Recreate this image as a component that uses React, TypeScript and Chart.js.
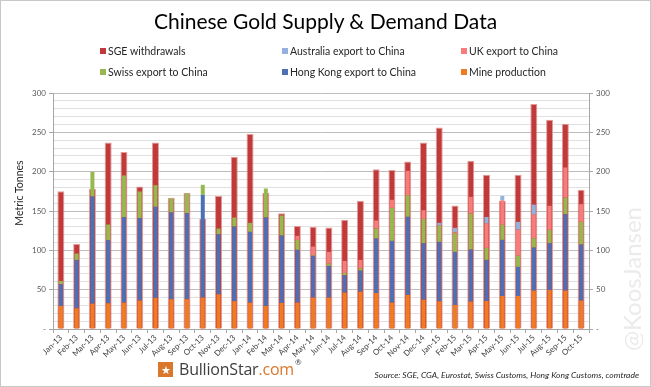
import React, { useEffect, useRef } from "react";
import { Chart, registerables } from "chart.js";

Chart.register(...registerables);

const months = [
  "Jan-13", "Feb-13", "Mar-13", "Apr-13", "May-13", "Jun-13", "Jul-13", "Aug-13", "Sep-13", "Oct-13", "Nov-13", "Dec-13",
  "Jan-14", "Feb-14", "Mar-14", "Apr-14", "May-14", "Jun-14", "Jul-14", "Aug-14", "Sep-14", "Oct-14", "Nov-14", "Dec-14",
  "Jan-15", "Feb-15", "Mar-15", "Apr-15", "May-15", "Jun-15", "Jul-15", "Aug-15", "Sep-15", "Oct-15",
];

const sgeWithdrawals = [175, 108, 178, 237, 225, 181, 237, 167, 173, 140, 169, 219, 248, 173, 147, 131, 130, 129, 139, 163, 203, 202, 213, 237, 256, 157, 214, 196, 163, 196, 286, 266, 261, 177];
const mineProduction = [29.3, 26.3, 32.2, 32.7, 33.5, 36.1, 39.5, 37.8, 37.8, 39.9, 44.1, 35.4, 33.5, 29.3, 33.1, 33.5, 39.9, 39.9, 46.2, 47.5, 45.8, 33.5, 43.3, 37.3, 35.2, 30.5, 34.8, 35.6, 42.0, 42.0, 48.8, 49.6, 48.8, 36.1];
const hongKongExport = [27.6, 61.5, 136.2, 80.2, 108.6, 104.8, 115.8, 110.3, 109.4, 130.7, 76.4, 94.8, 90.0, 112.4, 85.7, 67.1, 53.0, 40.3, 22.1, 26.7, 69.2, 78.5, 99.3, 71.7, 75.5, 67.5, 66.2, 52.2, 71.3, 36.9, 54.7, 59.4, 97.1, 71.2];
const swissExport = [4.2, 8.1, 31.4, 19.9, 53.1, 33.9, 27.6, 17.9, 25.1, 12.7, 7.2, 11.5, 11.4, 36.9, 25.5, 12.7, 0.9, 3.0, 3.0, 3.0, 12.7, 42.0, 27.5, 31.0, 20.8, 23.8, 45.8, 15.3, 19.1, 14.4, 11.9, 17.0, 21.3, 28.9];
const ukExport = [0, 0, 0, 0, 0, 0, 0, 0, 0, 0, 0, 0, 0, 0, 0, 5.1, 11.0, 14.8, 15.2, 10.6, 10.2, 10.2, 31.0, 11.0, 0, 1.0, 21.2, 30.8, 31.2, 32.9, 29.9, 30.6, 38.1, 22.5];
const australiaExport = [0, 0, 0, 0, 0, 0, 0, 0, 0, 0, 0, 0, 0, 0, 0, 0, 0, 0, 0, 0, 0, 0, 0, 0, 3.4, 5.8, 0, 8.5, 5.6, 10.0, 12.8, 0, 0, 0];

const yTickLabels = { 0: "-", 50: "50", 100: "100", 150: "150", 200: "200", 250: "250", 300: "300" } as Record<number, string>;

const C = {
  sge: "#bf3a38",
  sgeEdge: "#e49b99",
  mine: "#f07c22",
  hk: "#4a70b6",
  swiss: "#96b94f",
  uk: "#f77d7d",
  aus: "#93b1dc",
};

const FONT = "Lato, 'Open Sans', sans-serif";

const legendItems = [
  { label: "SGE withdrawals", color: C.sge, x: 100, y: 51 },
  { label: "Australia export to China", color: C.aus, x: 282, y: 51 },
  { label: "UK export to China", color: C.uk, x: 461, y: 51 },
  { label: "Swiss export to China", color: C.swiss, x: 100, y: 72 },
  { label: "Hong Kong export to China", color: C.hk, x: 282, y: 72 },
  { label: "Mine production", color: C.mine, x: 461, y: 72 },
];

export default function App() {
  const ref = useRef<HTMLCanvasElement | null>(null);

  useEffect(() => {
    document.body.style.margin = "0";
    const canvas = ref.current;
    if (!canvas) return;
    const inner = { stack: "supply", grouped: false, barPercentage: 1, maxBarThickness: 4, borderWidth: 0 };
    const chart = new Chart(canvas, {
      type: "bar",
      data: {
        labels: months,
        datasets: [
          { label: "Mine production", data: mineProduction, backgroundColor: C.mine, ...inner },
          { label: "Hong Kong export to China", data: hongKongExport, backgroundColor: C.hk, ...inner },
          { label: "Swiss export to China", data: swissExport, backgroundColor: C.swiss, ...inner },
          { label: "UK export to China", data: ukExport, backgroundColor: C.uk, ...inner },
          { label: "Australia export to China", data: australiaExport, backgroundColor: C.aus, ...inner },
          {
            label: "SGE withdrawals",
            data: sgeWithdrawals,
            backgroundColor: C.sge,
            borderColor: C.sgeEdge,
            borderWidth: { left: 1, right: 1, top: 1, bottom: 0 },
            stack: "sge",
            grouped: false,
            barPercentage: 1,
            maxBarThickness: 7,
          },
        ],
      } as any,
      options: {
        responsive: false,
        animation: false,
        layout: { padding: { top: 93, left: 0, right: 0, bottom: 0 } },
        plugins: { legend: { display: false }, tooltip: { enabled: false }, title: { display: false } },
        scales: {
          x: {
            stacked: true,
            offset: true,
            grid: { display: true, drawOnChartArea: false, offset: true, tickLength: 4, color: "#a6a6a6" },
            border: { color: "#a6a6a6" },
            ticks: { minRotation: 45, maxRotation: 45, autoSkip: false, padding: 0, color: "#404040", font: { size: 8, family: FONT } },
            afterFit: (s: any) => { s.height = 58; },
          },
          y: {
            stacked: true,
            min: 0,
            max: 300,
            border: { color: "#a6a6a6" },
            grid: {
              color: (ctx: any) => (ctx.tick && ctx.tick.value % 50 === 0 ? "#bdbdbd" : "#e0e0e0"),
              tickColor: (ctx: any) => (ctx.tick && ctx.tick.value % 50 === 0 ? "#a6a6a6" : "rgba(0,0,0,0)"),
              tickLength: 4,
            },
            ticks: {
              stepSize: 10,
              autoSkip: false,
              padding: 3,
              color: "#595959",
              font: { size: 8, family: FONT },
              callback: (v: any) => (yTickLabels[v] !== undefined ? yTickLabels[v] : ""),
            },
            afterFit: (s: any) => { s.width = 53; },
          },
          y2: {
            position: "right",
            min: 0,
            max: 300,
            border: { color: "#a6a6a6" },
            grid: {
              drawOnChartArea: false,
              tickColor: (ctx: any) => (ctx.tick && ctx.tick.value % 50 === 0 ? "#a6a6a6" : "rgba(0,0,0,0)"),
              tickLength: 4,
            },
            ticks: {
              stepSize: 10,
              autoSkip: false,
              padding: 3,
              color: "#595959",
              font: { size: 8, family: FONT },
              callback: (v: any) => (yTickLabels[v] !== undefined ? yTickLabels[v] : ""),
            },
            afterFit: (s: any) => { s.width = 62; },
          },
        },
      } as any,
    });
    return () => chart.destroy();
  }, []);

  return (
    <div style={{ position: "relative", width: 651, height: 387, background: "#fff", fontFamily: FONT, overflow: "hidden" }}>
      <canvas ref={ref} width={651} height={387} style={{ position: "absolute", left: 0, top: 0, width: 651, height: 387 }} />
      <div style={{ position: "absolute", left: 0, width: 651, top: 6, textAlign: "center", fontSize: 21, color: "#000", lineHeight: "30px" }}>
        Chinese Gold Supply &amp; Demand Data
      </div>
      {legendItems.map((it) => (
        <div key={it.label} style={{ position: "absolute", left: it.x, top: it.y - 7, height: 14, display: "flex", alignItems: "center", fontSize: 10.5, color: "#262626", whiteSpace: "nowrap" }}>
          <span style={{ display: "inline-block", width: 6, height: 6, background: it.color, marginRight: 2 }} />
          {it.label}
        </div>
      ))}
      <div style={{ position: "absolute", left: 19 - 50, top: 193 - 8, width: 100, height: 16, lineHeight: "16px", textAlign: "center", transform: "rotate(-90deg)", fontSize: 10.5, color: "#262626", whiteSpace: "nowrap" }}>
        Metric Tonnes
      </div>
      <div style={{ position: "absolute", left: 632 - 90, top: 279 - 15, width: 180, height: 30, lineHeight: "30px", textAlign: "center", transform: "rotate(-90deg)", fontSize: 24, color: "#ebebeb", whiteSpace: "nowrap" }}>
        @KoosJansen
      </div>
      <div style={{ position: "absolute", left: 158, top: 359, height: 20, display: "flex", alignItems: "center", whiteSpace: "nowrap" }}>
        <span style={{ display: "inline-flex", alignItems: "center", justifyContent: "center", width: 15, height: 15, background: "#d9772c", color: "#fff", fontSize: 11, lineHeight: "15px", marginRight: 6 }}>★</span>
        <span style={{ fontSize: 16, color: "#3d3d3d", fontFamily: "'Open Sans', sans-serif", letterSpacing: -0.2 }}>BullionStar</span>
        <span style={{ fontSize: 16, color: "#d9772c", fontFamily: "'Open Sans', sans-serif", letterSpacing: -0.2 }}>.com</span>
        <span style={{ fontSize: 8, color: "#3d3d3d", alignSelf: "flex-start", marginLeft: 1, marginTop: -2 }}>®</span>
      </div>
      <div style={{ position: "absolute", right: 12, top: 370, fontSize: 8.5, fontStyle: "italic", color: "#262626", whiteSpace: "nowrap" }}>
        Source: SGE, CGA, Eurostat, Swiss Customs, Hong Kong Customs, comtrade
      </div>
      <div style={{ position: "absolute", left: 0, top: 0, width: 651, height: 387, boxSizing: "border-box", border: "1px solid #c8c8c8", pointerEvents: "none" }} />
    </div>
  );
}
